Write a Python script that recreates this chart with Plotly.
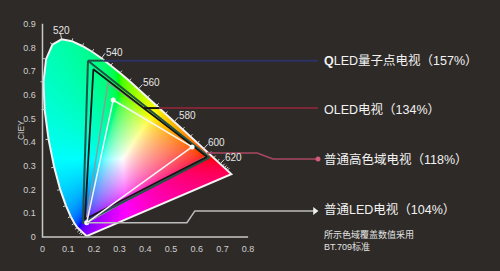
import struct, zlib, base64
import numpy as np
import plotly.graph_objects as go

BG = "#2e2a27"
FONT = "Liberation Sans, Arial, Noto Sans CJK SC, sans-serif"

# CIE 1931 2-degree spectral locus, 380-700 nm every 5 nm
LOCUS_NM = list(range(380, 705, 5))
LOCUS_X = [0.1741, 0.1740, 0.1738, 0.1736, 0.1733, 0.1730, 0.1726, 0.1721, 0.1714, 0.1703,
           0.1689, 0.1669, 0.1644, 0.1611, 0.1566, 0.1510, 0.1440, 0.1355, 0.1241, 0.1096,
           0.0913, 0.0687, 0.0454, 0.0235, 0.0082, 0.0039, 0.0139, 0.0389, 0.0743, 0.1142,
           0.1547, 0.1929, 0.2296, 0.2658, 0.3016, 0.3373, 0.3731, 0.4087, 0.4441, 0.4788,
           0.5125, 0.5448, 0.5752, 0.6029, 0.6270, 0.6482, 0.6658, 0.6801, 0.6915, 0.7006,
           0.7079, 0.7140, 0.7190, 0.7230, 0.7260, 0.7283, 0.7300, 0.7311, 0.7320, 0.7327,
           0.7334, 0.7340, 0.7344, 0.7346, 0.7347]
LOCUS_Y = [0.0050, 0.0050, 0.0049, 0.0049, 0.0048, 0.0048, 0.0048, 0.0048, 0.0051, 0.0058,
           0.0069, 0.0086, 0.0109, 0.0138, 0.0177, 0.0227, 0.0297, 0.0399, 0.0578, 0.0868,
           0.1327, 0.2007, 0.2950, 0.4127, 0.5384, 0.6548, 0.7502, 0.8120, 0.8338, 0.8262,
           0.8059, 0.7816, 0.7543, 0.7243, 0.6923, 0.6589, 0.6245, 0.5896, 0.5547, 0.5202,
           0.4866, 0.4544, 0.4242, 0.3965, 0.3725, 0.3514, 0.3340, 0.3197, 0.3083, 0.2993,
           0.2920, 0.2859, 0.2809, 0.2770, 0.2740, 0.2717, 0.2700, 0.2689, 0.2680, 0.2673,
           0.2666, 0.2660, 0.2656, 0.2654, 0.2653]

WL_LABELS = [520, 540, 560, 580, 600, 620]

# gamut triangles: R, G, B vertices
QLED_X = [0.650, 0.177, 0.157]
QLED_Y = [0.335, 0.744, 0.060]
OLED_X = [0.640, 0.198, 0.165]
OLED_Y = [0.338, 0.708, 0.075]
HIGH_X = [0.645, 0.255, 0.168]
HIGH_Y = [0.345, 0.650, 0.058]
LED_X = [0.582, 0.275, 0.172]
LED_Y = [0.380, 0.578, 0.060]

X_TICKS = [0, 0.1, 0.2, 0.3, 0.4, 0.5, 0.6, 0.7, 0.8]
X_TICK_TEXT = ["0", "0.1", "0.2", "0.3", "0.4", "0.5", "0.6", "0.7", "0.8"]
Y_TICKS = [0, 0.1, 0.2, 0.3, 0.4, 0.5, 0.6, 0.7, 0.8, 0.9]
Y_TICK_TEXT = ["0", "0.1", "0.2", "0.3", "0.4", "0.5", "0.6", "0.7", "0.8", "0.9"]

LABELS = ["<b>Q</b>LED量子点电视（157%）", "OLED电视（134%）",
          "普通高色域电视（118%）", "普通LED电视（104%）"]
LABEL_Y = [0.743, 0.540, 0.329, 0.118]
LABEL_X = 1.089
NOTE = "所示色域覆盖数值采用<br>BT.709标准"
NOTE_Y = -0.016

# pointer paths
QLED_PTR_X = [0.177, 0.238, 1.072]
QLED_PTR_Y = [0.744, 0.744, 0.744]
OLED_PTR_X = [0.394, 0.456, 1.072]
OLED_PTR_Y = [0.544, 0.544, 0.544]
HIGH_PTR_X = [0.640, 0.835, 0.897, 1.072]
HIGH_PTR_Y = [0.354, 0.354, 0.329, 0.329]
LED_PTR_X = [0.172, 0.562, 0.593, 1.060]
LED_PTR_Y = [0.060, 0.060, 0.110, 0.110]

# ---- axis scale (pixels per unit), figure size ----
W, H = 500, 271
PX_X, PX_Y = 257.0, 237.0
X0_PX, Y0_PX = 42.5, 237.0
x_range = [-X0_PX / PX_X, (W - X0_PX) / PX_X]
y_range = [-(H - Y0_PX) / PX_Y, Y0_PX / PX_Y]

# ---- chromaticity colour field as PNG ----
lx = np.array(LOCUS_X); ly = np.array(LOCUS_Y)
IMX0, IMX1, IMY0, IMY1 = 0.0, 0.74, 0.0, 0.84
nw = int((IMX1 - IMX0) * PX_X * 2); nh = int((IMY1 - IMY0) * PX_Y * 2)
gx = IMX0 + (np.arange(nw) + 0.5) * (IMX1 - IMX0) / nw
gy = IMY1 - (np.arange(nh) + 0.5) * (IMY1 - IMY0) / nh
GX, GY = np.meshgrid(gx, gy)
inside = np.zeros(GX.shape, dtype=bool)
n = len(lx)
for i in range(n):
    xa, ya = lx[i], ly[i]
    xb, yb = lx[(i + 1) % n], ly[(i + 1) % n]
    cond = ((ya > GY) != (yb > GY))
    with np.errstate(divide="ignore", invalid="ignore"):
        xint = xa + (GY - ya) * (xb - xa) / (yb - ya)
    inside ^= cond & (GX < xint)
M = np.array([[3.2406, -1.5372, -0.4986], [-0.9689, 1.8758, 0.0415], [0.0557, -0.2040, 1.0570]])
Xc = GX / GY; Zc = (1 - GX - GY) / GY
rgb = np.tensordot(M, np.stack([Xc, np.ones_like(Xc), Zc]), axes=1)
rgb = rgb - np.minimum(rgb.min(axis=0), 0)
rgb = rgb / rgb.max(axis=0)
rgb = np.where(rgb <= 0.0031308, 12.92 * rgb, 1.055 * np.power(np.clip(rgb, 0, 1), 1 / 2.4) - 0.055)
rgb = np.clip(rgb, 0, 1)
arr = np.zeros((nh, nw, 4), dtype=np.uint8)
arr[..., 0] = (rgb[0] * 255).astype(np.uint8)
arr[..., 1] = (rgb[1] * 255).astype(np.uint8)
arr[..., 2] = (rgb[2] * 255).astype(np.uint8)
arr[..., 3] = np.where(inside, 255, 0).astype(np.uint8)


def png_bytes(a):
    h, w = a.shape[:2]
    raw = b"".join(b"\x00" + a[i].tobytes() for i in range(h))

    def chunk(t, d):
        return struct.pack(">I", len(d)) + t + d + struct.pack(">I", zlib.crc32(t + d) & 0xffffffff)
    return (b"\x89PNG\r\n\x1a\n" + chunk(b"IHDR", struct.pack(">IIBBBBB", w, h, 8, 6, 0, 0, 0))
            + chunk(b"IDAT", zlib.compress(raw, 9)) + chunk(b"IEND", b""))


src = "data:image/png;base64," + base64.b64encode(png_bytes(arr)).decode()

fig = go.Figure()

fig.add_trace(go.Scatter(x=LOCUS_X + [LOCUS_X[0]], y=LOCUS_Y + [LOCUS_Y[0]], mode="lines",
                         line=dict(color="#f4f4f4", width=2), hoverinfo="skip"))

tx, ty = [], []
for nm in range(450, 645, 5):
    i = LOCUS_NM.index(nm)
    dxp = (lx[i + 1] - lx[i - 1]) * PX_X
    dyp = (ly[i + 1] - ly[i - 1]) * PX_Y
    L = np.hypot(dxp, dyp)
    nx, ny = -dyp / L, dxp / L
    ln = 6.0 if nm in WL_LABELS else 3.0
    tx += [lx[i], lx[i] + nx * ln / PX_X, None]
    ty += [ly[i], ly[i] + ny * ln / PX_Y, None]
fig.add_trace(go.Scatter(x=tx, y=ty, mode="lines", line=dict(color="#d8d8d8", width=1), hoverinfo="skip"))


def tri(xs, ys, color, width):
    fig.add_trace(go.Scatter(x=xs + [xs[0]], y=ys + [ys[0]], mode="lines",
                             line=dict(color=color, width=width), hoverinfo="skip"))


tri(HIGH_X, HIGH_Y, "rgba(150,150,150,0.9)", 1.5)
tri(QLED_X, QLED_Y, "#1e5446", 2)
tri(OLED_X, OLED_Y, "#151515", 1.8)
tri(LED_X, LED_Y, "#f6f6f6", 1.5)
fig.add_trace(go.Scatter(x=LED_X, y=LED_Y, mode="markers", marker=dict(color="#ffffff", size=5),
                         hoverinfo="skip"))

fig.add_trace(go.Scatter(x=QLED_PTR_X[:2], y=QLED_PTR_Y[:2], mode="lines",
                         line=dict(color="#1e5446", width=2), hoverinfo="skip"))
fig.add_trace(go.Scatter(x=QLED_PTR_X[1:], y=QLED_PTR_Y[1:], mode="lines",
                         line=dict(color="#2c3266", width=2), hoverinfo="skip"))
fig.add_trace(go.Scatter(x=OLED_PTR_X[:2], y=OLED_PTR_Y[:2], mode="lines",
                         line=dict(color="#181410", width=2), hoverinfo="skip"))
fig.add_trace(go.Scatter(x=OLED_PTR_X[1:], y=OLED_PTR_Y[1:], mode="lines",
                         line=dict(color="#7c2636", width=2), hoverinfo="skip"))
fig.add_trace(go.Scatter(x=HIGH_PTR_X, y=HIGH_PTR_Y, mode="lines",
                         line=dict(color="#a84862", width=1.5), hoverinfo="skip"))
fig.add_trace(go.Scatter(x=[HIGH_PTR_X[-1]], y=[HIGH_PTR_Y[-1]], mode="markers",
                         marker=dict(color="#d25a7a", size=5), hoverinfo="skip"))
fig.add_trace(go.Scatter(x=LED_PTR_X, y=LED_PTR_Y, mode="lines",
                         line=dict(color="#bdbdbd", width=1.5), hoverinfo="skip"))
fig.add_trace(go.Scatter(x=[LED_PTR_X[-1]], y=[LED_PTR_Y[-1]], mode="markers",
                         marker=dict(color="#eeeeee", size=7, symbol="triangle-right"), hoverinfo="skip"))

fig.add_trace(go.Scatter(x=[X_TICKS[-1], 0, 0], y=[0, 0, Y_TICKS[-1]], mode="lines",
                         line=dict(color="#c8c8c8", width=1.5), hoverinfo="skip"))

ann = []
for nm in WL_LABELS:
    i = LOCUS_NM.index(nm)
    xs, ys = (0, 9) if nm == 520 else (13, 6)
    ann.append(dict(x=LOCUS_X[i], y=LOCUS_Y[i], xref="x", yref="y", text=str(nm), showarrow=False,
                    xshift=xs, yshift=ys, font=dict(family=FONT, size=10, color="#e6e6e6")))
for t, yv in zip(LABELS, LABEL_Y):
    ann.append(dict(x=LABEL_X, y=yv, xref="x", yref="y", text=t, showarrow=False, xanchor="left",
                    yanchor="middle", font=dict(family=FONT, size=12.5, color="#f2f2f2")))
ann.append(dict(x=LABEL_X, y=NOTE_Y, xref="x", yref="y", text=NOTE, showarrow=False, xanchor="left",
                yanchor="middle", align="left", font=dict(family=FONT, size=9, color="#e2e2e2")))
ann.append(dict(x=14 / W, y=0.451, xref="paper", yref="y", text="CIEY", showarrow=False, textangle=-90,
                font=dict(family=FONT, size=8.5, color="#d0d0d0")))

fig.update_layout(
    width=W, height=H, margin=dict(l=0, r=0, t=0, b=0),
    paper_bgcolor=BG, plot_bgcolor="rgba(0,0,0,0)", showlegend=False,
    annotations=ann,
    images=[dict(source=src, xref="x", yref="y", x=IMX0, y=IMY1, sizex=IMX1 - IMX0, sizey=IMY1 - IMY0,
                 xanchor="left", yanchor="top", sizing="stretch", layer="below")],
    xaxis=dict(range=x_range, domain=[0, 1], anchor="free", position=(H - Y0_PX) / H,
               tickvals=X_TICKS, ticktext=X_TICK_TEXT, showgrid=False, zeroline=False, showline=False,
               ticks="outside", ticklen=3, tickcolor="rgba(0,0,0,0)",
               tickfont=dict(family=FONT, size=9, color="#cfcfcf")),
    yaxis=dict(range=y_range, domain=[0, 1], anchor="free", position=X0_PX / W,
               tickvals=Y_TICKS, ticktext=Y_TICK_TEXT, showgrid=False, zeroline=False, showline=False,
               ticks="outside", ticklen=5, tickcolor="rgba(0,0,0,0)",
               tickfont=dict(family=FONT, size=9, color="#cfcfcf")),
)

fig.write_html("out.html")
